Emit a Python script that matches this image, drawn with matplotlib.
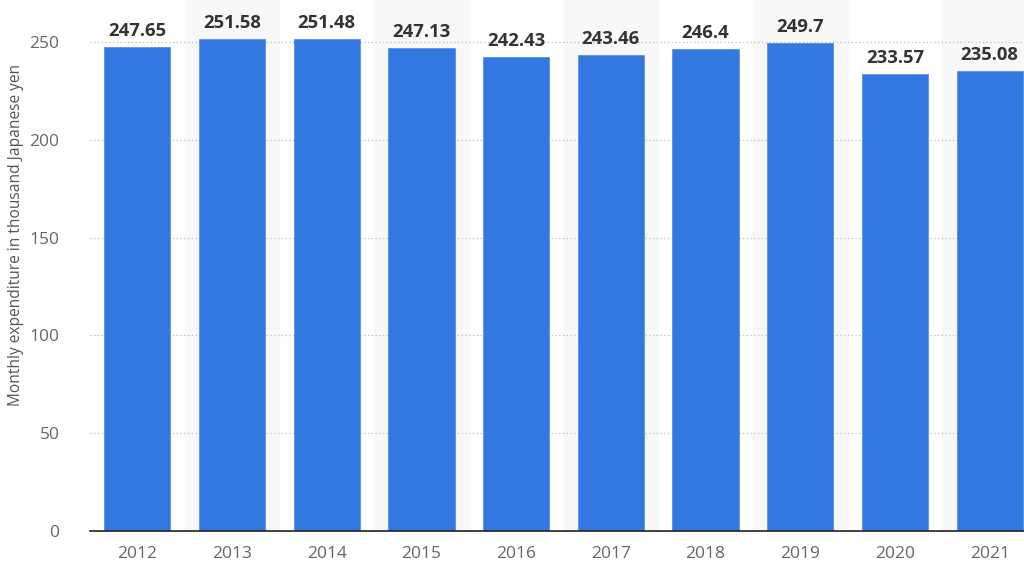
import matplotlib.pyplot as plt

# monthly household consumption expenditure, thousand yen
years = ['2012', '2013', '2014', '2015', '2016', '2017', '2018', '2019', '2020', '2021']
spending = [247.65, 251.58, 251.48, 247.13, 242.43, 243.46, 246.4, 249.7, 233.57, 235.08]
labels = ['247.65', '251.58', '251.48', '247.13', '242.43', '243.46', '246.4', '249.7', '233.57', '235.08']
y_ticks = [0, 50, 100, 150, 200, 250]

plt.rcParams['font.family'] = ['Open Sans', 'DejaVu Sans']

fig = plt.figure(figsize=(10.24, 5.77), dpi=100)
# the plot area runs a little past the right edge of the picture
ax_w = 947
ax = fig.add_axes([90 / 1024, 1 - 531 / 577, ax_w / 1024, 531 / 577])

x = range(len(years))
# light bands behind every second column
for i in x:
    if i % 2 == 1:
        ax.axvspan(i - 0.5, i + 0.5, color='#f8f8f8', zorder=0)

ax.bar(x, spending, width=0.70, color='#3278e0', edgecolor='#5a92e8', linewidth=0.6, zorder=3)

for i, (v, t) in enumerate(zip(spending, labels)):
    ax.text(i, v + 3.5, t, ha='center', va='bottom', fontsize=13.3, fontweight='bold', color='#333333', zorder=4)

ax.set_xlim(-0.5, len(years) - 0.5)
ax.set_ylim(0, 271.5)
ax.set_xticks(list(x))
ax.set_xticklabels(years)
ax.set_yticks(y_ticks)
ax.tick_params(axis='both', length=0, labelsize=12.5, colors='#666666')
ax.tick_params(axis='x', pad=11)
ax.tick_params(axis='y', pad=22)
ax.grid(axis='y', linestyle=(0, (1, 2)), color='#bbbbbb', linewidth=0.9, zorder=1)
ax.set_axisbelow(True)

for s in ['top', 'right', 'left']:
    ax.spines[s].set_visible(False)
ax.spines['bottom'].set_color('#222222')
ax.spines['bottom'].set_linewidth(1.2)
ax.spines['bottom'].set_zorder(5)

ax.set_ylabel('Monthly expenditure in thousand Japanese yen', fontsize=11.2, color='#555555')
ax.yaxis.set_label_coords((24 - 90) / ax_w, 0.557)

fig.savefig('out.png', dpi=100)
